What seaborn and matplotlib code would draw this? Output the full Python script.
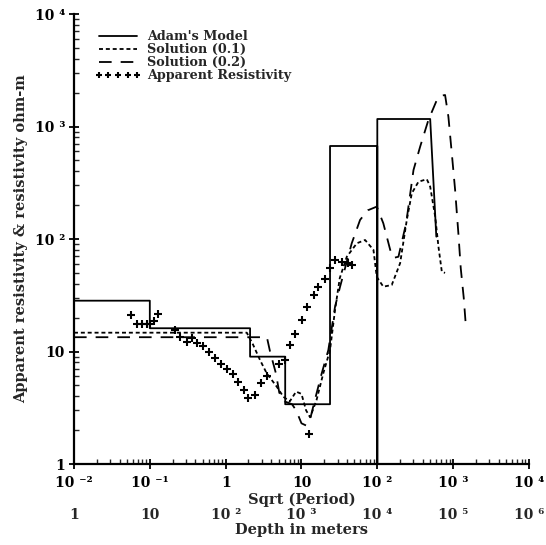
import numpy as np
import pandas as pd
import matplotlib
matplotlib.use("Agg")
import matplotlib.pyplot as plt
from matplotlib.lines import Line2D
from matplotlib.ticker import FixedLocator, FixedFormatter, LogLocator, NullFormatter
import seaborn as sns

# Adam's model (layered step model)
model_x = [0.01, 0.1, 0.1, 2.1, 2.1, 6.1, 6.1, 23.8, 23.8, 100, 100, 100, 498, 600]
model_y = [28.3, 28.3, 16.1, 16.1, 9.0, 9.0, 3.4, 3.4, 671, 671, 1.0, 1166, 1166, 105]

# Solution (0.1)
sol1_x = [0.01, 1.9, 2.3, 2.84, 3.48, 4.72, 5.77, 7.0, 8.5, 10.0, 11.5, 13.0, 15.8,
          19.4, 23.8, 27.7, 32.0, 39.6, 53.7, 69.0, 89.0, 98.4, 120, 155, 200,
          245, 285, 349, 450, 498, 580, 641, 710, 783]
sol1_y = [14.7, 14.7, 11.5, 8.4, 6.4, 4.87, 3.96, 3.6, 4.4, 4.2, 3.0, 2.6, 3.7,
          6.4, 10.3, 23.4, 45, 69.6, 91.6, 98, 80, 46, 37.7, 39, 61,
          148, 255, 323, 340, 292, 158, 85, 51, 50]

# Solution (0.2)
sol2_x = [0.01, 3.5, 3.85, 4.6, 5.1, 6.0, 7.5, 8.5, 10.0, 11.5, 13.0, 15.0, 18.5,
          22.6, 27.7, 32.3, 46, 59.3, 75, 98.4, 120, 148, 165, 190, 240, 300,
          367, 472, 610, 700, 783, 866, 960, 1062, 1175, 1260, 1380, 1470]
sol2_y = [13.4, 13.4, 10.0, 6.4, 4.3, 3.6, 3.4, 3.0, 2.3, 2.2, 2.5, 3.7, 6.4,
          10.3, 25, 37.7, 91.6, 148, 180, 194, 138, 80, 68, 69.6, 138, 410,
          661, 1143, 1721, 1880, 1905, 1222, 578, 273, 110, 55, 30, 17]

# Apparent resistivity (measured)
app_x = [0.056, 0.067, 0.078, 0.091, 0.1, 0.113, 0.129, 0.215, 0.25, 0.307, 0.357,
         0.424, 0.508, 0.61, 0.725, 0.87, 1.03, 1.26, 1.47, 1.75, 2.0, 2.44, 2.9,
         3.55, 5.07, 6.0, 7.08, 8.24, 10.1, 12.0, 12.6, 14.8, 16.7, 20.5, 23.8,
         27.7, 34.0, 41.6, 46.0]
app_y = [21.1, 17.5, 17.5, 17.5, 17.5, 18.8, 21.4, 15.5, 13.5, 12.2, 13.1,
         12.0, 11.2, 9.84, 8.8, 7.74, 6.99, 6.27, 5.39, 4.55, 3.84, 4.1, 5.2,
         6.06, 7.74, 8.4, 11.4, 14.2, 19.1, 24.7, 1.85, 31.8, 37.7, 44, 55,
         65, 62.9, 60.8, 58.7]

x_ticks = [0.01, 0.1, 1, 10, 100, 1000, 10000]
x_labels = ["10 ⁻²", "10 ⁻¹", "1", "10", "10 ²", "10 ³", "10 ⁴"]
depth_labels = ["1", "10", "10 ²", "10 ³", "10 ⁴", "10 ⁵", "10 ⁶"]
y_ticks = [1, 10, 100, 1000, 10000]
y_labels = ["1", "10", "10 ²", "10 ³", "10 ⁴"]

sns.set_style("ticks")
plt.rcParams["font.family"] = ["DejaVu Serif"]
plt.rcParams["font.weight"] = "bold"

fig = plt.figure(figsize=(5.46, 5.45), dpi=100)
ax = fig.add_axes([0.1355, 0.1486, 0.8333, 0.8257])

lw = 1.3
sns.lineplot(x=model_x, y=model_y, sort=False, estimator=None, color="black",
             linewidth=lw, ax=ax)
sns.lineplot(x=sol1_x, y=sol1_y, sort=False, estimator=None, color="black",
             linewidth=lw, ax=ax)
ax.lines[-1].set_dashes((2.2, 1.6))
sns.lineplot(x=sol2_x, y=sol2_y, sort=False, estimator=None, color="black",
             linewidth=lw, ax=ax)
ax.lines[-1].set_dashes((7, 5))
sns.scatterplot(x=app_x, y=app_y, marker="+", s=28, color="black",
                linewidth=1.5, ax=ax)

ax.set_xscale("log")
ax.set_yscale("log")
ax.set_xlim(0.01, 10000)
ax.set_ylim(1, 10000)

ax.xaxis.set_major_locator(FixedLocator(x_ticks))
ax.xaxis.set_major_formatter(FixedFormatter(x_labels))
ax.yaxis.set_major_locator(FixedLocator(y_ticks))
ax.yaxis.set_major_formatter(FixedFormatter(y_labels))
ax.xaxis.set_minor_locator(LogLocator(base=10, subs=np.arange(2, 10), numticks=20))
ax.yaxis.set_minor_locator(LogLocator(base=10, subs=np.arange(2, 10), numticks=20))
ax.xaxis.set_minor_formatter(NullFormatter())
ax.yaxis.set_minor_formatter(NullFormatter())

ax.tick_params(which="major", direction="inout", length=7, width=1.3,
               labelsize=10, pad=3, colors="black")
ax.tick_params(axis="x", which="major", pad=5)
ax.tick_params(which="minor", direction="in", length=3.5, width=1.0)
for s in ["top", "right"]:
    ax.spines[s].set_visible(False)
for s in ["left", "bottom"]:
    ax.spines[s].set_linewidth(1.6)
    ax.spines[s].set_color("black")

ax.set_xlabel("Sqrt (Period)", fontsize=10.5, fontweight="bold")
ax.xaxis.set_label_coords(0.5, -0.064)
ax.set_ylabel("Apparent resistivity & resistivity ohm-m", fontsize=10.5,
              fontweight="bold")
ax.yaxis.set_label_coords(-0.1, 0.5)

sec = ax.secondary_xaxis(-0.094, functions=(lambda x: x * 100, lambda d: d / 100))
sec.xaxis.set_major_locator(FixedLocator([1, 10, 100, 1000, 1e4, 1e5, 1e6]))
sec.xaxis.set_major_formatter(FixedFormatter(depth_labels))
sec.xaxis.set_minor_locator(FixedLocator([]))
sec.tick_params(length=0, pad=1, labelsize=10)
sec.spines["bottom"].set_visible(False)
sec.set_xlabel("Depth in meters", fontsize=10.5, fontweight="bold", labelpad=1)

handles = [
    Line2D([], [], color="black", linewidth=lw),
    Line2D([], [], color="black", linewidth=lw, dashes=(2.2, 1.6)),
    Line2D([], [], color="black", linewidth=lw, dashes=(7, 5)),
    Line2D([], [], color="black", linestyle="none", marker="+", markersize=5,
           markeredgewidth=1.5),
]
labels = ["Adam's Model", "Solution (0.1)", "Solution (0.2)", "Apparent Resistivity"]
ax.legend(handles, labels, loc="upper left", bbox_to_anchor=(0.035, 0.975),
          frameon=False, fontsize=9.2, handlelength=3.6, handletextpad=0.5,
          labelspacing=0.0, numpoints=5, borderaxespad=0)

fig.savefig("out.png", dpi=100)
